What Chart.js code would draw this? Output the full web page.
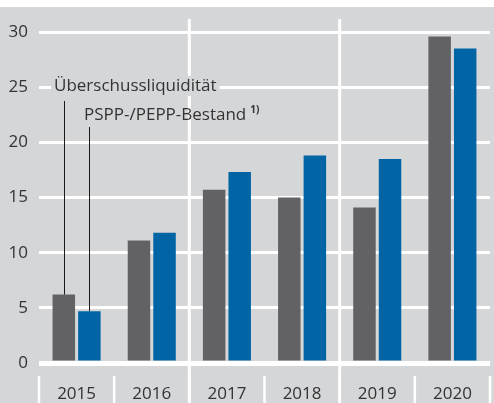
<!DOCTYPE html>
<html lang="de">
<head>
<meta charset="UTF-8">
<title>Überschussliquidität und PSPP-/PEPP-Bestand</title>
<script src="https://cdn.jsdelivr.net/npm/chart.js@4.4.1/dist/chart.umd.min.js"></script>
<style>
    body { margin: 0; background: #ffffff; }
    #wrap { width: 494px; height: 403px; }
</style>
</head>
<body>
<div id="wrap"><canvas id="chart" width="494" height="403"></canvas></div>
<script>
    // Data
    var years = ['2015', '2016', '2017', '2018', '2019', '2020'];
    var excessLiquidity = [6.2, 11.1, 15.7, 15.0, 14.1, 29.6];
    var psppPepp = [4.7, 11.8, 17.3, 18.8, 18.5, 28.5];
    var yTicks = [0, 5, 10, 15, 20, 25, 30];
    var seriesNames = ['Überschussliquidität', 'PSPP-/PEPP-Bestand'];

    var bgGray = '#d5d6d8';
    var textColor = '#333333';
    var fontFamily = '"Open Sans", "Noto Sans", sans-serif';

    // Background, separators and the two labels with leader lines
    var decorations = {
        id: 'decorations',
        beforeDraw: function(chart) {
            var c = chart.ctx;
            c.save();
            c.fillStyle = '#ffffff';
            c.fillRect(0, 0, chart.width, chart.height);
            c.fillStyle = bgGray;
            c.fillRect(0, 7, chart.width, chart.height - 7);
            c.restore();
        },
        beforeDatasetsDraw: function(chart) {
            var c = chart.ctx;
            var x = chart.scales.x;
            var area = chart.chartArea;
            var half = (x.getPixelForValue(1) - x.getPixelForValue(0)) / 2;
            c.save();
            c.strokeStyle = '#ffffff';
            // long separators between 2016/2017 and 2018/2019
            c.lineWidth = 3;
            [1, 3].forEach(function(i) {
                var px = x.getPixelForValue(i) + half;
                c.beginPath();
                c.moveTo(px, 19);
                c.lineTo(px, chart.height);
                c.stroke();
            });
            // short tick separators under the axis
            c.lineWidth = 2.5;
            for (var i = 0; i <= years.length; i++) {
                var sx = x.getPixelForValue(i) - half;
                c.beginPath();
                c.moveTo(sx, area.bottom + 13);
                c.lineTo(sx, chart.height);
                c.stroke();
            }
            c.restore();
        },
        afterDatasetsDraw: function(chart) {
            var c = chart.ctx;
            var b0 = chart.getDatasetMeta(0).data[0];
            var b1 = chart.getDatasetMeta(1).data[0];
            c.save();
            c.font = '17px ' + fontFamily;
            c.textBaseline = 'middle';
            // first label with gray background over the grid line
            var w0 = c.measureText(seriesNames[0]).width;
            c.fillStyle = bgGray;
            c.fillRect(51, 76, w0 + 6, 20);
            c.fillStyle = textColor;
            c.fillText(seriesNames[0], 54, 86);
            c.fillText(seriesNames[1], 84, 115);
            var w1 = c.measureText(seriesNames[1]).width;
            c.font = 'bold 10px ' + fontFamily;
            c.fillText('1)', 84 + w1 + 4, 110);
            // leader lines
            c.strokeStyle = '#1a1a1a';
            c.lineWidth = 1;
            c.beginPath();
            c.moveTo(Math.round(b0.x) + 0.5, 101);
            c.lineTo(Math.round(b0.x) + 0.5, b0.y);
            c.moveTo(Math.round(b1.x) + 0.5, 127);
            c.lineTo(Math.round(b1.x) + 0.5, b1.y);
            c.stroke();
            c.restore();
        }
    };

    var ctx = document.getElementById('chart').getContext('2d');
    var chart = new Chart(ctx, {
        type: 'bar',
        data: {
            labels: years,
            datasets: [{
                label: seriesNames[0],
                data: excessLiquidity,
                backgroundColor: '#626264',
                borderWidth: 0
            }, {
                label: seriesNames[1],
                data: psppPepp,
                backgroundColor: '#0064a5',
                borderWidth: 0
            }]
        },
        options: {
            responsive: false,
            animation: false,
            events: [],
            datasets: {
                bar: { categoryPercentage: 0.68, barPercentage: 0.88 }
            },
            layout: { padding: { left: 0, right: 4, top: 32, bottom: 0 } },
            plugins: {
                legend: { display: false },
                tooltip: { enabled: false }
            },
            scales: {
                x: {
                    afterFit: function(scale) { scale.height = 40; },
                    grid: { display: false },
                    border: { display: false },
                    ticks: {
                        color: textColor,
                        font: { family: fontFamily, size: 17 },
                        padding: 13
                    }
                },
                y: {
                    min: 0,
                    max: 30,
                    afterFit: function(scale) { scale.width = 39; },
                    afterBuildTicks: function(axis) {
                        axis.ticks = yTicks.map(function(v) { return { value: v }; });
                    },
                    border: { display: false },
                    grid: {
                        color: '#ffffff',
                        lineWidth: function(c) { return c.tick && c.tick.value === 0 ? 5 : 3; },
                        drawTicks: false
                    },
                    ticks: {
                        color: textColor,
                        font: { family: fontFamily, size: 17 },
                        padding: 11
                    }
                }
            }
        },
        plugins: [decorations]
    });
</script>
</body>
</html>
